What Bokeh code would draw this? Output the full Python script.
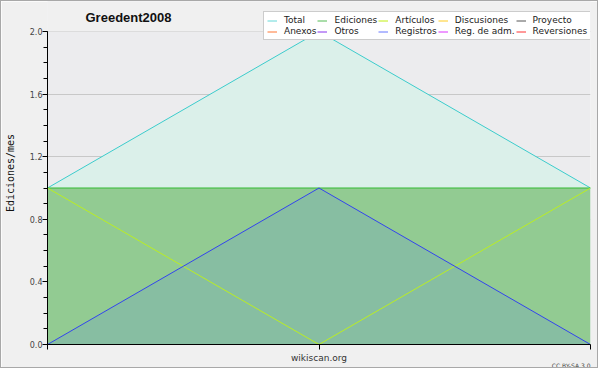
from bokeh.plotting import figure
from bokeh.models import (Legend, LegendItem, Range1d, SingleIntervalTicker,
                          FixedTicker, Label, PrintfTickFormatter, Title, BoxAnnotation)
from bokeh.embed import file_html
from bokeh.resources import INLINE

# ---- data ----
months = [0, 1, 2]
total = [1, 2, 1]
ediciones = [1, 1, 1]
articulos = [1, 0, 1]
registros = [0, 1, 0]

legend_names = ["Total", "Ediciones", "Artículos", "Discusiones", "Proyecto",
                "Anexos", "Otros", "Registros", "Reg. de adm.", "Reversiones"]
legend_colors = ["#66d8d8", "#55bb55", "#c0ee10", "#ffcc22", "#555555",
                 "#ff7733", "#8833ee", "#6677ff", "#dd33ff", "#ff3333"]

title_text = "Greedent2008"
y_label = "Ediciones/mes"
x_label = "wikiscan.org"
license_text = "CC BY-SA 3.0"
y_max = 2.0

# layout (pixels): frame spans canvas top to plot bottom; plotted area top at 30
frame_h = 343
plot_h = 313
y_end = y_max * frame_h / plot_h

p = figure(width=598, height=368, output_backend="svg", toolbar_location=None,
           x_range=Range1d(0, 2), y_range=Range1d(0, y_end),
           min_border_left=46, min_border_right=9,
           min_border_top=0, min_border_bottom=25,
           styles={"border": "1px solid #a8a8a8"})

p.background_fill_color = "#ececee"
p.border_fill_color = "#f0f0f0"
p.outline_line_color = None

# outer area above the plotted region
p.add_layout(BoxAnnotation(bottom=y_max, fill_color="#f0f0f0", fill_alpha=1,
                           line_color=None, level="underlay"))

# fills
p.varea(x=months, y1=0, y2=total, fill_color="#dbf0ea")
p.varea(x=months, y1=0, y2=ediciones, fill_color="#92cb92")
p.varea(x=months, y1=0, y2=registros, fill_color="#87bea2")

# lines
p.line(months, total, line_color="#3ccccc", line_width=1)
p.line(months, ediciones, line_color="#33bb33", line_width=1)
p.line(months, articulos, line_color="#bbee22", line_width=1)
p.line(months, registros, line_color="#3344ee", line_width=1)

# legend (proxy renderers that draw nothing in the plot)
nan_vals = [float("nan")] * len(months)
renderers = {}
for name, col in zip(legend_names, legend_colors):
    renderers[name] = p.line(months, nan_vals, line_color=col, line_width=1)

items = [LegendItem(label=n, renderers=[renderers[n]]) for n in legend_names]
legend = Legend(items=items, ncols=5, orientation="horizontal",
                location=(216, 304))
legend.label_text_font = "DejaVu Sans"
legend.label_text_font_size = "9px"
legend.label_text_color = "#222222"
legend.label_height = 9
legend.glyph_height = 9
legend.glyph_width = 10
legend.label_standoff = 7
legend.spacing = 1
legend.padding = 3
legend.margin = 0
legend.border_line_color = "#999999"
legend.background_fill_color = "white"
legend.background_fill_alpha = 1
p.add_layout(legend, "center")

# title as label inside the extended frame
p.add_layout(Label(x=38, y=327, x_units="screen", y_units="screen",
                   text=title_text, text_font="Liberation Sans",
                   text_font_style="bold", text_font_size="13px",
                   text_color="#111111", text_baseline="alphabetic"))

p.xgrid.visible = False
p.ygrid.ticker = SingleIntervalTicker(interval=0.4)
p.ygrid.grid_line_color = "#c8c8c8"
p.ygrid.bounds = (0, y_max)

p.yaxis.bounds = (0, y_max)
p.yaxis.ticker = SingleIntervalTicker(interval=0.4, num_minor_ticks=4)
p.yaxis.formatter = PrintfTickFormatter(format="%.1f")
p.yaxis.major_label_text_font = "DejaVu Sans"
p.yaxis.major_label_text_font_size = "8px"
p.yaxis.major_label_text_color = "#444444"
p.yaxis.major_label_standoff = 0
p.yaxis.major_tick_out = 5
p.yaxis.major_tick_in = 0
p.yaxis.minor_tick_out = 4
p.yaxis.minor_tick_in = 0
p.yaxis.axis_line_color = "black"
p.yaxis.axis_label = y_label
p.yaxis.axis_label_text_font = "DejaVu Sans Mono"
p.yaxis.axis_label_text_font_style = "normal"
p.yaxis.axis_label_text_font_size = "10px"
p.yaxis.axis_label_text_color = "#111111"
p.yaxis.axis_label_standoff = 11

p.xaxis.ticker = FixedTicker(ticks=months)
p.xaxis.major_label_overrides = {m: "" for m in months}
p.xaxis.major_label_text_font_size = "1px"
p.xaxis.major_label_standoff = 0
p.xaxis.major_tick_out = 5
p.xaxis.major_tick_in = 0
p.xaxis.minor_tick_out = 0
p.xaxis.axis_line_color = "black"
p.xaxis.axis_label = x_label
p.xaxis.axis_label_text_font = "DejaVu Sans"
p.xaxis.axis_label_text_font_style = "normal"
p.xaxis.axis_label_text_font_size = "9px"
p.xaxis.axis_label_text_color = "#333333"
p.xaxis.axis_label_standoff = 3

lic = Title(text=license_text, align="right", text_font="DejaVu Sans",
            text_font_size="6px", text_font_style="normal",
            text_color="#444444", standoff=-8, vertical_align="top")
p.add_layout(lic, "below")

open("out.html", "w").write(file_html(p, INLINE))
